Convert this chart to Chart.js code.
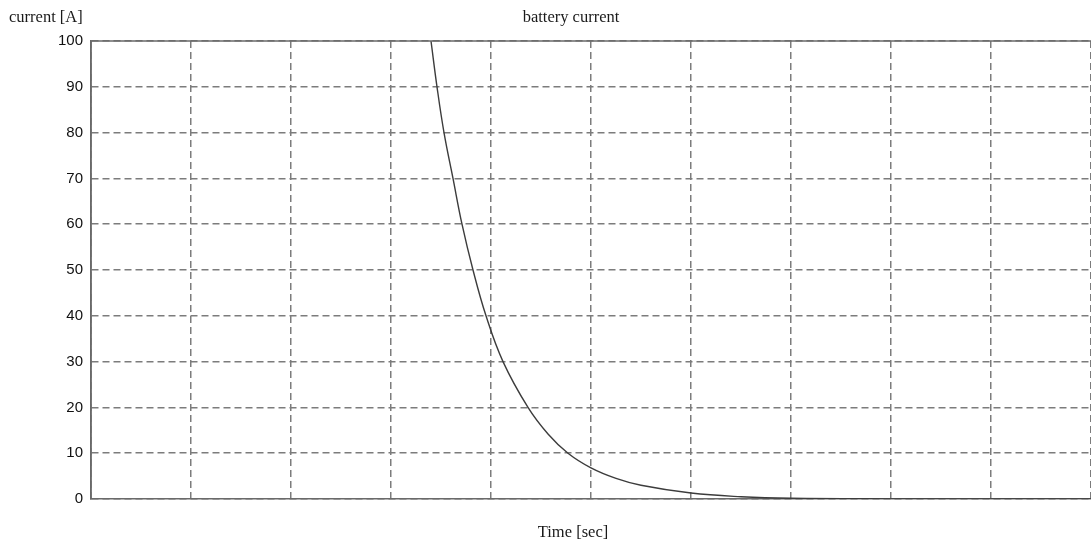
<!DOCTYPE html>
<html>
<head>
<meta charset="utf-8">
<title>battery current</title>
<script src="https://cdn.jsdelivr.net/npm/chart.js@4.4.1/dist/chart.umd.min.js"></script>
<style>
  html, body { margin: 0; padding: 0; background: #fff; }
  #wrap { width: 1091px; height: 544px; }
</style>
</head>
<body>
<div id="wrap"><canvas id="chart" width="1091" height="544"></canvas></div>
<script>
// values (x in grid divisions, the time axis has no tick labels)
const timeDiv  = [3.40, 3.46, 3.53, 3.62, 3.71, 3.82, 3.95, 4.12, 4.37, 4.57, 4.77, 5.00, 5.25, 5.50, 6.00, 6.50, 7.00, 8.00, 9.00, 10.00];
const currentA = [100, 90, 80, 70, 60, 50, 40, 30, 20, 14.2, 10, 6.8, 4.5, 3.0, 1.3, 0.5, 0.15, 0.03, 0.01, 0];
const yTicks = [0, 10, 20, 30, 40, 50, 60, 70, 80, 90, 100];

const titleText = "battery current";
const yLabel = "current [A]";
const xLabel = "Time [sec]";

const points = timeDiv.map((t, i) => ({ x: t, y: currentA[i] }));

// titles + top/left frame drawn over the chart
const extras = {
  id: "extras",
  afterDraw(chart) {
    const ctx = chart.ctx;
    const a = chart.chartArea;
    ctx.save();
    ctx.strokeStyle = "#6a6a6a";
    ctx.lineWidth = 1.5;
    ctx.beginPath();
    ctx.moveTo(a.left, a.bottom);
    ctx.lineTo(a.left, a.top);
    ctx.lineTo(a.right, a.top);
    ctx.stroke();

    ctx.fillStyle = "#1a1a1a";
    ctx.font = '16.5px "Liberation Serif", "Times New Roman", serif';
    ctx.textBaseline = "middle";
    ctx.textAlign = "left";
    ctx.fillText(yLabel, 9, 18);
    ctx.textAlign = "center";
    ctx.fillText(titleText, 571, 18);
    ctx.fillText(xLabel, 573, 533);
    ctx.restore();
  }
};

new Chart(document.getElementById("chart"), {
  type: "line",
  data: {
    datasets: [{
      data: points,
      borderColor: "#3c3c3c",
      borderWidth: 1.4,
      pointRadius: 0,
      tension: 0.4,
      fill: false
    }]
  },
  options: {
    responsive: false,
    animation: false,
    layout: { padding: { left: 0, top: 41, right: 0, bottom: 45 } },
    plugins: { legend: { display: false }, title: { display: false }, tooltip: { enabled: false } },
    scales: {
      x: {
        type: "linear",
        min: 0,
        max: 10,
        ticks: { display: false, stepSize: 1 },
        grid: { color: "#7c7c7c", lineWidth: 1.5, drawTicks: false },
        border: { color: "#6a6a6a", width: 1.5, dash: [7, 4] },
        afterFit(scale) { scale.height = 0; }
      },
      y: {
        min: 0,
        max: 100,
        afterBuildTicks(scale) { scale.ticks = yTicks.map(v => ({ value: v })); },
        ticks: {
          color: "#111",
          padding: 8,
          font: { family: '"Liberation Sans", Arial, sans-serif', size: 15 }
        },
        grid: { color: "#7c7c7c", lineWidth: 1.5, drawTicks: false },
        border: { color: "#6a6a6a", width: 1.5, dash: [7, 4] },
        afterFit(scale) { scale.width = 91; }
      }
    }
  },
  plugins: [extras]
});
</script>
</body>
</html>
